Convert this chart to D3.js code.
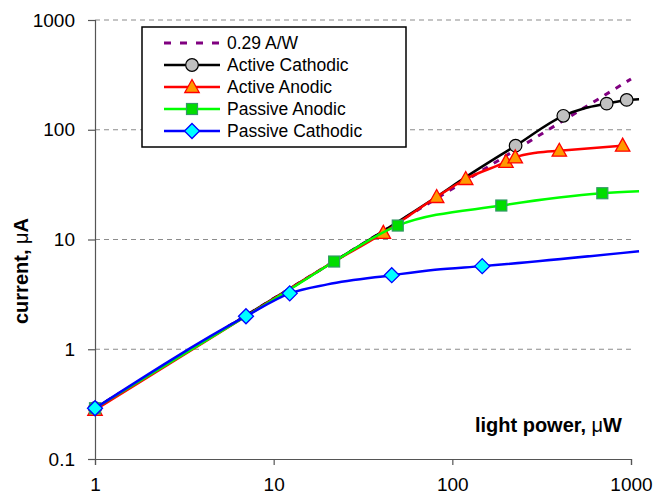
<!DOCTYPE html>
<html>
<head>
<meta charset="utf-8">
<script src="https://cdn.jsdelivr.net/npm/d3@7"></script>
<style>
  body { margin: 0; background: #fff; }
  text { font-family: "Liberation Sans", Arial, Helvetica, sans-serif; }
</style>
</head>
<body>
<div id="chart"></div>
<script>
// Values (light power in µW, current in µA).
const refX = [1, 1000];
const refY = [0.29, 290];

const activeCathodicX = [1, 7, 20, 45, 81.7, 118.8, 226, 418, 550, 731, 946, 1109];
const activeCathodicY = [0.29, 2.03, 5.8, 13.1, 24.5, 37, 71.6, 134, 157, 173, 187, 190];
const activeCathodicMarks = [0, 6, 7, 9, 10];

const activeAnodicX = [1, 7, 20, 41.1, 81.7, 118.8, 199.6, 225, 300, 397, 898];
const activeAnodicY = [0.28, 2.0, 5.8, 11.5, 24.4, 35.6, 50.9, 56, 62, 64.4, 71.6];
const activeAnodicMarks = [0, 3, 4, 5, 6, 7, 9, 10];

const passiveAnodicX = [1, 7, 12.3, 21.8, 49.5, 188, 691, 1109];
const passiveAnodicY = [0.29, 2.0, 3.5, 6.3, 13.4, 20.4, 26.4, 27.5];
const passiveAnodicMarks = [0, 3, 4, 5, 6];

const passiveCathodicX = [1, 7, 12.3, 20, 45.8, 80, 147, 1109];
const passiveCathodicY = [0.29, 2.0, 3.23, 3.9, 4.73, 5.3, 5.72, 7.83];
const passiveCathodicMarks = [0, 1, 2, 4, 6];

const xTicks = [1, 10, 100, 1000];
const yTicks = [0.1, 1, 10, 100, 1000];

const width = 657;
const height = 494;
const marginLeft = 95;
const marginRight = 26;
const marginTop = 20;
const marginBottom = 35;

const x = d3.scaleLog()
  .domain([1, 1000])
  .range([marginLeft, width - marginRight]);

const y = d3.scaleLog()
  .domain([0.1, 1000])
  .range([height - marginBottom, marginTop]);

const svg = d3.create("svg")
  .attr("width", width)
  .attr("height", height)
  .attr("viewBox", [0, 0, width, height]);

d3.select("#chart").append(() => svg.node());

// Dashed horizontal gridlines.
svg.append("g")
  .selectAll("line")
  .data(yTicks.slice(1))
  .join("line")
  .attr("x1", x(1))
  .attr("x2", x(1000))
  .attr("y1", d => y(d))
  .attr("y2", d => y(d))
  .attr("stroke", "#8c8c8c")
  .attr("stroke-width", 1.2)
  .attr("stroke-dasharray", "5,4");

// Axes.
svg.append("g")
  .attr("transform", `translate(0,${y(0.1)})`)
  .call(d3.axisBottom(x).tickValues(xTicks).tickFormat(d3.format("d")).tickSize(6).tickPadding(13))
  .call(g => g.selectAll("path, line").attr("stroke", "#555").attr("stroke-width", 1.2))
  .call(g => g.selectAll("text").attr("font-size", 19).attr("fill", "#000")
    .attr("font-family", '"Liberation Sans", Arial, sans-serif'));

svg.append("g")
  .attr("transform", `translate(${x(1)},0)`)
  .call(d3.axisLeft(y).tickValues(yTicks).tickFormat(d => d < 1 ? "0.1" : d3.format("d")(d)).tickSize(7).tickPadding(13))
  .call(g => g.selectAll("path, line").attr("stroke", "#555").attr("stroke-width", 1.2))
  .call(g => g.selectAll("text").attr("font-size", 19).attr("fill", "#000")
    .attr("font-family", '"Liberation Sans", Arial, sans-serif'));

// Axis titles.
svg.append("text")
  .attr("x", 622)
  .attr("y", 432)
  .attr("text-anchor", "end")
  .attr("font-size", 20)
  .attr("font-weight", "bold")
  .text("light power, ")
  .append("tspan").attr("font-weight", "normal").text("μ")
  .select(function() { return this.parentNode; })
  .append("tspan").text("W");

svg.append("text")
  .attr("transform", "translate(28,271) rotate(-90)")
  .attr("text-anchor", "middle")
  .attr("font-size", 20)
  .attr("font-weight", "bold")
  .text("current, ")
  .append("tspan").attr("font-weight", "normal").text("μ")
  .select(function() { return this.parentNode; })
  .append("tspan").text("A");

// Marker shapes.
const markerShapes = {
  circle: g => g.append("circle").attr("r", 6.3).attr("fill", "#c0c0c0").attr("stroke", "#000").attr("stroke-width", 1.2),
  triangle: g => g.append("path").attr("d", "M0,-7.5L7.2,5.5L-7.2,5.5Z").attr("fill", "#ff9900").attr("stroke", "#ff0000").attr("stroke-width", 1.3),
  square: g => g.append("rect").attr("x", -5.5).attr("y", -5.5).attr("width", 11).attr("height", 11).attr("fill", "#00dd00").attr("stroke", "#339966").attr("stroke-width", 1.2),
  diamond: g => g.append("path").attr("d", "M0,-7.5L7.5,0L0,7.5L-7.5,0Z").attr("fill", "#00ffff").attr("stroke", "#0000ff").attr("stroke-width", 1.3)
};

const series = [
  { name: "Active Cathodic", xs: activeCathodicX, ys: activeCathodicY, marks: activeCathodicMarks, color: "#000000", shape: "circle" },
  { name: "Active Anodic", xs: activeAnodicX, ys: activeAnodicY, marks: activeAnodicMarks, color: "#ff0000", shape: "triangle" },
  { name: "Passive Anodic", xs: passiveAnodicX, ys: passiveAnodicY, marks: passiveAnodicMarks, color: "#00ff00", shape: "square" },
  { name: "Passive Cathodic", xs: passiveCathodicX, ys: passiveCathodicY, marks: passiveCathodicMarks, color: "#0000ff", shape: "diamond" }
];

const line = d3.line()
  .x(d => x(d[0]))
  .y(d => y(d[1]))
  .curve(d3.curveMonotoneX);

// 0.29 A/W reference line.
svg.append("path")
  .attr("d", line(refX.map((v, i) => [v, refY[i]])))
  .attr("fill", "none")
  .attr("stroke", "#800080")
  .attr("stroke-width", 3)
  .attr("stroke-dasharray", "6,7");

series.forEach(s => {
  const pts = s.xs.map((v, i) => [v, s.ys[i]]);
  svg.append("path")
    .attr("d", line(pts))
    .attr("fill", "none")
    .attr("stroke", s.color)
    .attr("stroke-width", 2.5);
  svg.append("g")
    .selectAll("g")
    .data(s.marks.map(i => pts[i]))
    .join("g")
    .attr("transform", d => `translate(${x(d[0])},${y(d[1])})`)
    .each(function() { markerShapes[s.shape](d3.select(this)); });
});

// Legend.
const legend = svg.append("g");
legend.append("rect")
  .attr("x", 142).attr("y", 27)
  .attr("width", 264).attr("height", 120)
  .attr("fill", "#fff")
  .attr("stroke", "#000")
  .attr("stroke-width", 1.5);

const legendItems = [{ name: "0.29 A/W", color: "#800080", dashed: true }].concat(series);
const rowY = d3.scalePoint().domain(legendItems.map(d => d.name)).range([43, 131]);

legendItems.forEach(d => {
  const yy = rowY(d.name);
  legend.append("line")
    .attr("x1", 164).attr("x2", 220)
    .attr("y1", yy).attr("y2", yy)
    .attr("stroke", d.color)
    .attr("stroke-width", d.dashed ? 3 : 2.5)
    .attr("stroke-dasharray", d.dashed ? "7,9" : null);
  if (d.shape) {
    const g = legend.append("g").attr("transform", `translate(192,${yy})`);
    markerShapes[d.shape](g);
  }
  legend.append("text")
    .attr("x", 227)
    .attr("y", yy)
    .attr("dy", "0.36em")
    .attr("font-size", 17.5)
    .text(d.name);
});
</script>
</body>
</html>
